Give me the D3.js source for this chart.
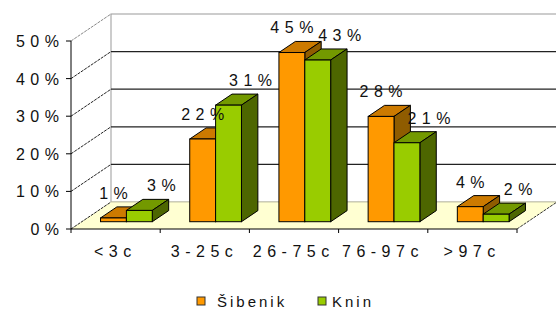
<!DOCTYPE html>
<html>
<head>
<meta charset="utf-8">
<script src="https://cdn.jsdelivr.net/npm/d3@7"></script>
<style>
  body { margin: 0; background: #fff; }
  text { font-family: Arial, "Liberation Sans", sans-serif; fill: #111; }
</style>
</head>
<body>
<script>
// chart data
var categories = ["<3c", "3-25c", "26-75c", "76-97c", ">97c"];
var seriesNames = ["Šibenik", "Knin"];
var sibenik = [1, 22, 45, 28, 4];
var knin = [3, 31, 43, 21, 2];
var yTicks = [0, 10, 20, 30, 40, 50];

var width = 556, height = 309;

// plot frame: front axis corner and depth offset of the back wall
var x0 = 71, x1 = 517, yBase = 229, yTop = 41;
var depthX = 40, depthY = -27;
var f0 = 0.27, f1 = 0.68; // bar depth range as fraction of the floor depth
var spacing = 5.5; // wide letter spacing of the original labels

var colors = [
    {front: "#ff9900", top: "#cc7a00", side: "#8f5c00"},
    {front: "#99cc00", top: "#739900", side: "#4d6600"}
];

var svg = d3.select("body").append("svg")
    .attr("width", width)
    .attr("height", height);

var y = d3.scaleLinear().domain([0, 50]).range([yBase, yTop]);

var xBand = d3.scaleBand()
    .domain(categories)
    .range([x0, x1])
    .paddingInner(0.42)
    .paddingOuter(0.21);

var xSeries = d3.scaleBand()
    .domain(seriesNames)
    .range([0, xBand.bandwidth()]);

// back wall
svg.append("rect")
    .attr("x", x0 + depthX)
    .attr("y", yTop + depthY)
    .attr("width", width - (x0 + depthX) + 2)
    .attr("height", yBase - yTop)
    .attr("fill", "#fff")
    .attr("stroke", "#9a9a9a");

// floor
svg.append("polygon")
    .attr("points", [
        [x0, yBase], [x1, yBase],
        [x1 + depthX, yBase + depthY], [x0 + depthX, yBase + depthY]
    ].join(" "))
    .attr("fill", "#ffffd2")
    .attr("stroke", "none");

svg.append("line")
    .attr("x1", x0 + depthX).attr("y1", yBase + depthY)
    .attr("x2", width).attr("y2", yBase + depthY)
    .attr("stroke", "#c8c8a8");

svg.append("line")
    .attr("x1", x1).attr("y1", yBase)
    .attr("x2", x1 + depthX).attr("y2", yBase + depthY)
    .attr("stroke", "#333")
    .attr("stroke-dasharray", "3,1");

// gridlines on back wall and left wall
yTicks.forEach(function(v){
    if (v > 0 && v < 50) {
        svg.append("line")
            .attr("x1", x0 + depthX).attr("y1", y(v) + depthY)
            .attr("x2", width).attr("y2", y(v) + depthY)
            .attr("stroke", "#222")
            .attr("stroke-width", 1.3);
    }
    svg.append("line")
        .attr("x1", x0).attr("y1", y(v))
        .attr("x2", x0 + depthX).attr("y2", y(v) + depthY)
        .attr("stroke", v == 50 ? "#888" : "#222")
        .attr("stroke-dasharray", "3,1");
});

// bars
function drawBar(g, bx, v, c){
    var bw = xSeries.bandwidth();
    var zx0 = depthX * f0, zy0 = depthY * f0;
    var dx = depthX * (f1 - f0), dy = depthY * (f1 - f0);
    var left = bx + zx0, right = left + bw;
    var bottom = yBase + zy0, top = y(v) + zy0;

    g.append("polygon") // top face
        .attr("points", [[left, top], [right, top], [right + dx, top + dy], [left + dx, top + dy]].join(" "))
        .attr("fill", c.top).attr("stroke", "#000").attr("stroke-width", 1);
    g.append("polygon") // side face
        .attr("points", [[right, top], [right + dx, top + dy], [right + dx, bottom + dy], [right, bottom]].join(" "))
        .attr("fill", c.side).attr("stroke", "#000").attr("stroke-width", 1);
    g.append("rect") // front face
        .attr("x", left).attr("y", top)
        .attr("width", bw).attr("height", bottom - top)
        .attr("fill", c.front).attr("stroke", "#000").attr("stroke-width", 1);
}

var barLayer = svg.append("g");
categories.forEach(function(cat, i){
    [sibenik, knin].forEach(function(series, s){
        drawBar(barLayer, xBand(cat) + xSeries(seriesNames[s]), series[i], colors[s]);
    });
});

// value labels
var labelLayer = svg.append("g")
    .style("font-size", "16px")
    .style("letter-spacing", spacing + "px");
categories.forEach(function(cat, i){
    [sibenik, knin].forEach(function(series, s){
        var v = series[i];
        var cx = xBand(cat) + xSeries(seriesNames[s]) + depthX * f0 + xSeries.bandwidth() / 2;
        var shift = s == 0 ? 0 : 22;
        labelLayer.append("text")
            .attr("x", cx + shift + spacing / 2)
            .attr("y", y(v) + depthY * f1 - 8)
            .attr("text-anchor", "middle")
            .text(v + "%");
    });
});

// axes lines
svg.append("line")
    .attr("x1", x0).attr("y1", yTop)
    .attr("x2", x0).attr("y2", yBase)
    .attr("stroke", "#000");
svg.append("line")
    .attr("x1", x0).attr("y1", yBase)
    .attr("x2", x1).attr("y2", yBase)
    .attr("stroke", "#000");

var yAxis = svg.append("g").style("font-size", "16px").style("letter-spacing", spacing + "px");
yTicks.forEach(function(v){
    yAxis.append("line")
        .attr("x1", x0 - 5).attr("y1", y(v))
        .attr("x2", x0).attr("y2", y(v))
        .attr("stroke", "#000");
    yAxis.append("text")
        .attr("x", 59 + spacing)
        .attr("y", y(v) + 6)
        .attr("text-anchor", "end")
        .text(v + "%");
});

// x axis ticks and labels
var step = xBand.step();
for (var k = 0; k <= categories.length; k++) {
    var tx = x0 + k * step;
    svg.append("line")
        .attr("x1", tx).attr("y1", yBase)
        .attr("x2", tx).attr("y2", yBase + 4)
        .attr("stroke", "#000");
}
var xAxis = svg.append("g").style("font-size", "16px").style("letter-spacing", spacing + "px");
categories.forEach(function(cat, i){
    xAxis.append("text")
        .attr("x", x0 + (i + 0.5) * step - 3 + spacing / 2)
        .attr("y", 257)
        .attr("text-anchor", "middle")
        .text(cat);
});

// legend
var legend = svg.append("g").style("font-size", "15px").style("letter-spacing", "3px");
var legendX = [197, 318];
seriesNames.forEach(function(name, s){
    legend.append("rect")
        .attr("x", legendX[s]).attr("y", 297)
        .attr("width", 8).attr("height", 8)
        .attr("fill", colors[s].front)
        .attr("stroke", "#333");
    legend.append("text")
        .attr("x", legendX[s] + 20 - (s * 6))
        .attr("y", 307)
        .text(name);
});
</script>
</body>
</html>
